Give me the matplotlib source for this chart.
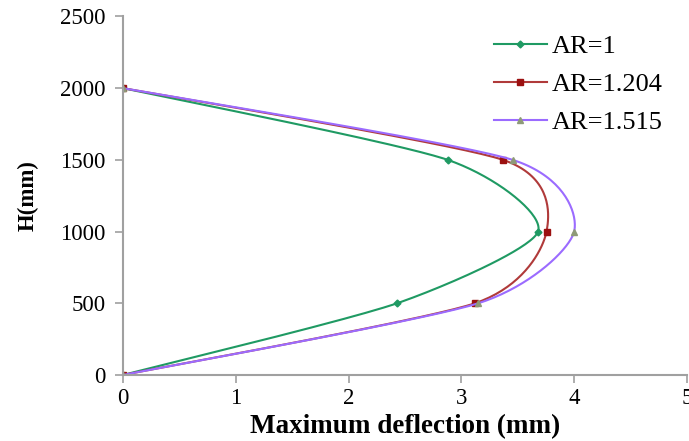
import numpy as np
import matplotlib.pyplot as plt

# Maximum deflection vs height for three aspect ratios
H = [0, 500, 1000, 1500, 2000]
defl_ar1 = [0, 2.43, 3.68, 2.88, 0]
defl_ar1204 = [0, 3.12, 3.755, 3.37, 0]
defl_ar1515 = [0, 3.15, 4.0, 3.455, 0]
labels = ['AR=1', 'AR=1.204', 'AR=1.515']

plt.rcParams['font.family'] = ['Liberation Serif', 'DejaVu Serif']

fig = plt.figure(figsize=(6.89, 4.41), dpi=100)
ax = fig.add_axes([0.1785, 0.1497, 0.8185, 0.8129])
ax.set_xlim(0, 5)
ax.set_ylim(0, 2500)


def smooth(xs, ys, n=40, k=8.5):
    # smoothed line: cardinal bezier spline worked out in display space
    pts = ax.transData.transform(np.column_stack([xs, ys]))
    p = np.vstack([pts[0], pts, pts[-1]])
    out = []
    t = np.linspace(0, 1, n)[:, None]
    for i in range(1, len(p) - 2):
        p0, p1, p2, p3 = p[i - 1], p[i], p[i + 1], p[i + 2]
        c1 = p1 + (p2 - p0) / k
        c2 = p2 - (p3 - p1) / k
        seg = ((1 - t) ** 3) * p1 + 3 * ((1 - t) ** 2) * t * c1 + 3 * (1 - t) * t ** 2 * c2 + t ** 3 * p2
        out.append(seg)
    out = np.vstack(out)
    d = ax.transData.inverted().transform(out)
    return d[:, 0], d[:, 1]


series = [
    (defl_ar1, '#1f9a63', 'D', '#1f9a63', 3.5),
    (defl_ar1204, '#b03a3a', 's', '#9b1010', 4.5),
    (defl_ar1515, '#9b6bff', '^', '#8e9a78', 5),
]
for (vals, col, mk, mcol, ms), lab in zip(series, labels):
    sx, sy = smooth(vals, H)
    ax.plot(sx, sy, color=col, lw=1.5)
    ax.plot(vals, H, linestyle='none', marker=mk, color=mcol, ms=ms)
    # legend proxy
    ax.plot([], [], color=col, lw=1.5, marker=mk, mfc=mcol, mec=mcol, ms=ms, label=lab)

for s in ['top', 'right']:
    ax.spines[s].set_visible(False)
for s in ['left', 'bottom']:
    ax.spines[s].set_color('#a0a0a0')
    ax.spines[s].set_linewidth(1.5)

ax.set_xticks(range(0, 6))
ax.set_yticks(range(0, 2501, 500))
ax.tick_params(colors='#a0a0a0', labelcolor='black', labelsize=16.5, length=5.8, width=1.2)
ax.tick_params(axis='y', pad=7)
ax.set_xlabel('Maximum deflection (mm)', fontsize=19.5, fontweight='bold', labelpad=4)
ax.set_ylabel('H(mm)', fontsize=16.5, fontweight='bold', labelpad=15)

fig.legend(loc='upper left', bbox_to_anchor=(0.717, 0.921), frameon=False, fontsize=19,
           handlelength=2.0, labelspacing=0.55, handletextpad=0.2, borderpad=0,
           borderaxespad=0)

fig.savefig('out.png', dpi=100)
